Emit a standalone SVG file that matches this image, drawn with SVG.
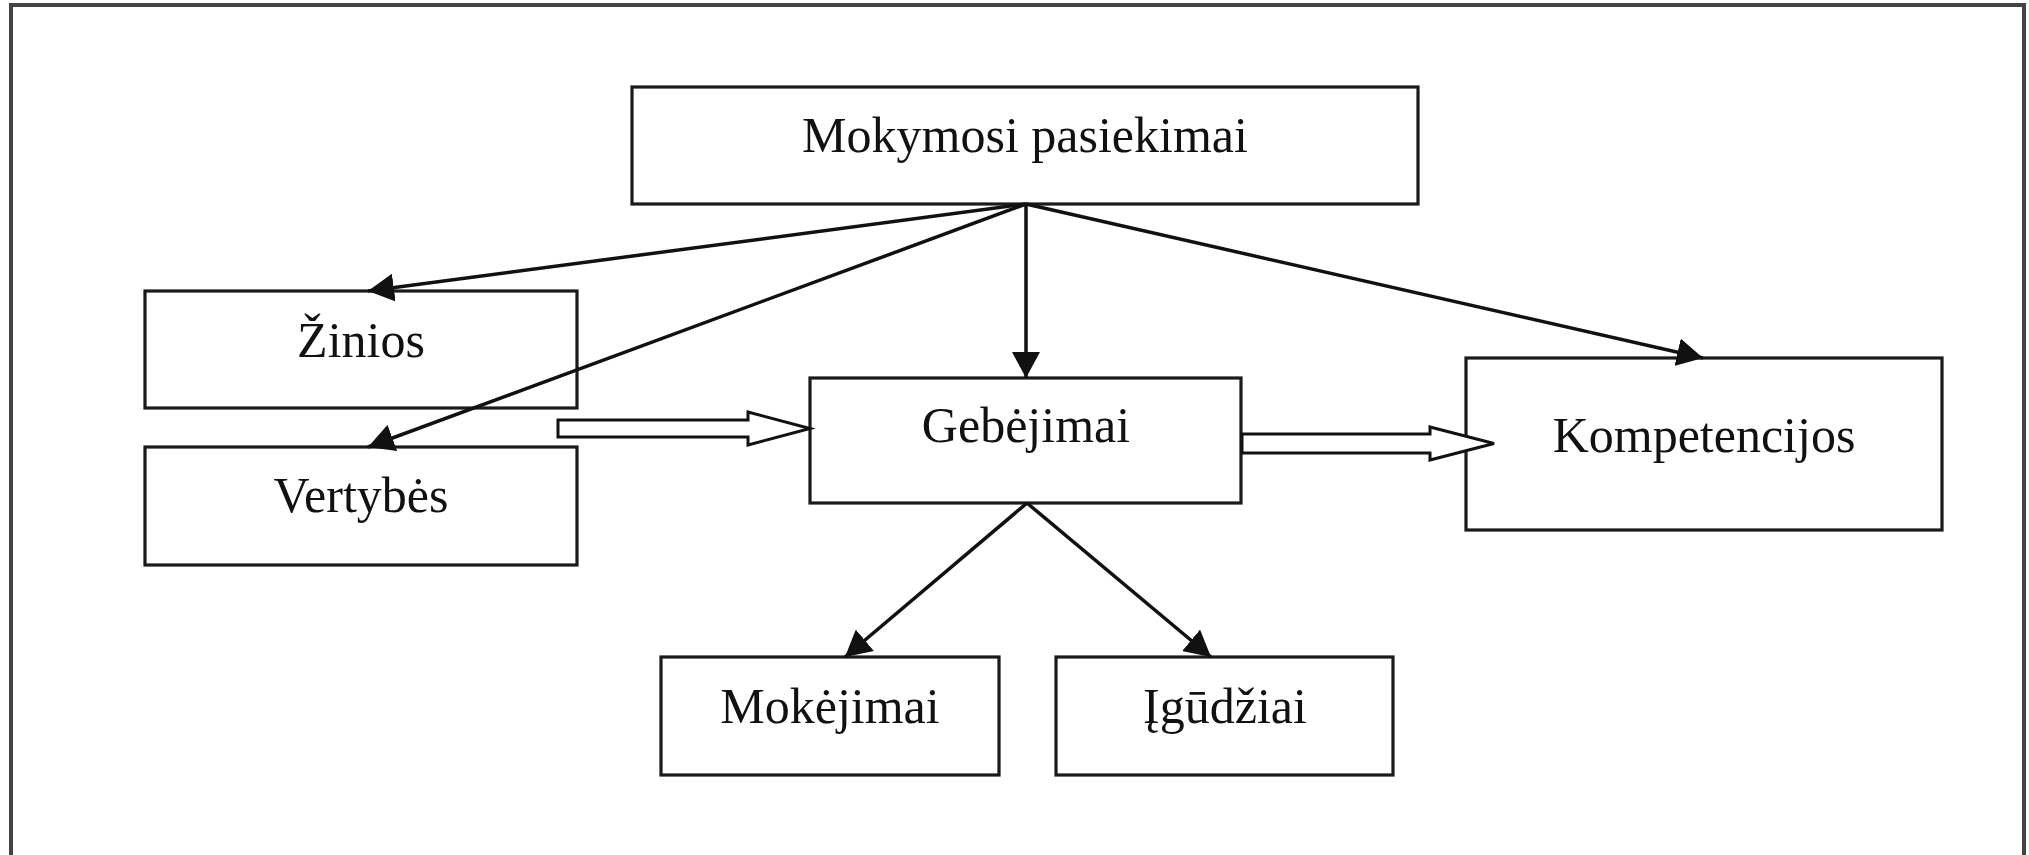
<svg xmlns="http://www.w3.org/2000/svg" width="2029" height="855" viewBox="0 0 2029 855">
<style>
.box{fill:#fff;stroke:#1a1a1a;stroke-width:3.2}
.lbl{font-family:"Liberation Serif","Times New Roman",serif;font-size:50px;fill:#111;text-anchor:middle}
.con{stroke:#111;stroke-width:3.5;fill:none;marker-end:url(#ah)}
.hol{fill:#fff;stroke:#111;stroke-width:3;stroke-linejoin:miter}
</style>
<defs>
<marker id="ah" markerUnits="userSpaceOnUse" viewBox="0 0 26 28" markerWidth="26" markerHeight="28" refX="26" refY="14" orient="auto">
<path d="M0,0 L26,14 L0,28 z" fill="#111"/>
</marker>
</defs>
<rect width="2029" height="855" fill="#fff"/>
<path d="M11,860 L11,5 L2024,5 L2024,860" fill="none" stroke="#444" stroke-width="4"/>
<g id="n-top"><rect class="box" x="632" y="87" width="786" height="117"/><text class="lbl" x="1025" y="152">Mokymosi pasiekimai</text></g>
<g id="n-zinios"><rect class="box" x="145" y="291" width="432" height="117"/><text class="lbl" x="361" y="357">Žinios</text></g>
<g id="n-vertybes"><rect class="box" x="145" y="447" width="432" height="118"/><text class="lbl" x="361" y="512">Vertybės</text></g>
<g id="n-gebejimai"><rect class="box" x="810" y="378" width="431" height="125"/><text class="lbl" x="1026" y="442">Gebėjimai</text></g>
<g id="n-kompetencijos"><rect class="box" x="1466" y="358" width="476" height="172"/><text class="lbl" x="1704" y="452">Kompetencijos</text></g>
<g id="n-mokejimai"><rect class="box" x="661" y="657" width="338" height="118"/><text class="lbl" x="830" y="723">Mokėjimai</text></g>
<g id="n-igudziai"><rect class="box" x="1056" y="657" width="337" height="118"/><text class="lbl" x="1225" y="723">Įgūdžiai</text></g>
<g id="connectors">
<line class="con" x1="1026" y1="204" x2="368" y2="291"/>
<line class="con" x1="1026" y1="204" x2="368" y2="447"/>
<line class="con" x1="1026" y1="204" x2="1026" y2="378"/>
<line class="con" x1="1026" y1="204" x2="1703" y2="358"/>
<line class="con" x1="1027" y1="503" x2="845" y2="657"/>
<line class="con" x1="1027" y1="503" x2="1211" y2="657"/>
<polygon class="hol" points="558,420 748,420 748,412 810,428.5 748,445 748,437 558,437"/>
<polygon class="hol" points="1242,434 1430,434 1430,427 1494,443.5 1430,460 1430,453 1242,453"/>
</g>
</svg>
